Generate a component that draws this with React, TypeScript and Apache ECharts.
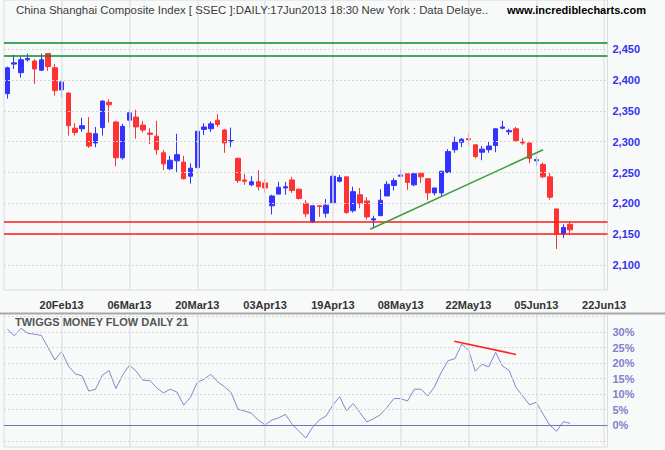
import React, { useEffect, useRef } from "react";
import * as echarts from "echarts";

const dates = ['01Feb13','04Feb13','05Feb13','06Feb13','07Feb13','08Feb13','18Feb13','19Feb13','20Feb13','21Feb13','22Feb13','25Feb13','26Feb13','27Feb13','28Feb13','01Mar13','04Mar13','05Mar13','06Mar13','07Mar13','08Mar13','11Mar13','12Mar13','13Mar13','14Mar13','15Mar13','18Mar13','19Mar13','20Mar13','21Mar13','22Mar13','25Mar13','26Mar13','27Mar13','28Mar13','29Mar13','01Apr13','02Apr13','03Apr13','08Apr13','09Apr13','10Apr13','11Apr13','12Apr13','15Apr13','16Apr13','17Apr13','18Apr13','19Apr13','22Apr13','23Apr13','24Apr13','25Apr13','26Apr13','02May13','03May13','06May13','07May13','08May13','09May13','10May13','13May13','14May13','15May13','16May13','17May13','20May13','21May13','22May13','23May13','24May13','27May13','28May13','29May13','30May13','31May13','03Jun13','04Jun13','05Jun13','06Jun13','07Jun13','13Jun13','14Jun13','17Jun13','18Jun13','19Jun13','20Jun13','21Jun13','22Jun13'];

const tickLabels = ['20Feb13','06Mar13','20Mar13','03Apr13','19Apr13','08May13','22May13','05Jun13','22Jun13'];

const opens = [2378,2426,2412,2433,2431,2416,2443,2420,2384,2379,2322,2321,2314,2298,2323,2364,2332,2274,2335,2340,2327,2314,2309,2282,2256,2269,2267,2244,2258,2320,2321,2335,2319,2300,2273,2238,2230,2235,2233,2196,2215,2225,2238,2223,2200,2170,2196,2184,2201,2236,2243,2188,2214,2204,2173,2180,2212,2229,2244,2248,2230,2249,2240,2217,2217,2250,2287,2299,2305,2295,2283,2287,2294,2322,2316,2321,2300,2298,2269,2263,2243,2191,2150,2166];
const closes = [2420,2428,2433,2435,2418,2433,2422,2383,2397,2326,2315,2326,2293,2313,2366,2360,2274,2325,2347,2324,2319,2312,2287,2264,2270,2279,2240,2257,2317,2324,2329,2328,2298,2302,2237,2236,2235,2227,2225,2212,2226,2227,2221,2208,2183,2196,2195,2197,2244,2242,2185,2219,2200,2178,2175,2205,2231,2237,2246,2234,2248,2243,2217,2225,2252,2284,2299,2304,2303,2276,2288,2293,2321,2324,2318,2302,2298,2273,2271,2243,2210,2150,2161,2157];
const lows = [2370,2418,2404,2430,2394,2415,2415,2375,2372,2310,2310,2316,2290,2291,2310,2331,2260,2271,2323,2305,2315,2296,2279,2254,2254,2251,2239,2232,2257,2311,2316,2324,2282,2291,2233,2230,2228,2221,2217,2182,2215,2214,2217,2206,2178,2168,2178,2177,2201,2234,2183,2185,2192,2174,2161,2180,2212,2221,2242,2222,2228,2233,2205,2213,2211,2249,2282,2291,2294,2273,2270,2282,2283,2320,2311,2300,2295,2265,2261,2241,2206,2126,2144,2148];
const highs = [2422,2441,2438,2443,2434,2443,2444,2426,2399,2380,2330,2339,2340,2324,2367,2369,2334,2329,2352,2352,2334,2322,2334,2287,2277,2313,2277,2265,2318,2330,2333,2345,2321,2323,2274,2248,2244,2254,2240,2214,2235,2235,2243,2224,2205,2197,2197,2207,2251,2246,2243,2227,2225,2210,2180,2223,2236,2241,2255,2248,2248,2251,2240,2225,2253,2288,2308,2306,2314,2295,2293,2300,2322,2334,2321,2324,2306,2298,2276,2266,2250,2191,2166,2169];

const moneyFlow = [30.9,28.8,31.2,29.6,29.3,28.9,25.0,21.0,23.7,19.1,16.5,15.9,11.0,11.6,16.1,17.6,11.8,16.2,19.3,17.4,14.5,14.4,12.1,10.4,11.6,10.7,6.5,9.0,13.8,14.8,16.4,14.0,12.4,10.5,5.2,4.6,3.9,1.7,0.1,1.7,2.4,3.5,0.3,-1.9,-4.1,-0.7,1.7,3.0,6.5,9.2,4.7,7.0,4.1,1.1,2.1,3.4,5.8,8.6,8.6,7.8,11.6,11.6,9.4,12.4,17.1,20.8,21.4,26.1,24.2,17.4,19.6,18.8,23.5,19.1,17.6,12.2,9.4,6.6,7.4,3.6,0.0,-1.9,1.2,0.6];

const priceTicks = [2100, 2150, 2200, 2250, 2300, 2350, 2400, 2450];
const flowTicks = [0, 5, 10, 15, 20, 25, 30];
const flowGrid = [-5, 5, 10, 15, 20, 25, 30, 35];
const greenLevels = [2460, 2439];
const redLevels = [2170, 2150];
const trendLine = [[53.5, 2158], [79.0, 2287]];
const divergenceLine = [[65.9, 27.0], [75.0, 22.8]];

const FONT = "'Liberation Sans', Arial, sans-serif";
const BLUE = "#3333ff";
const RED = "#ff3333";

function fmtThousands(v: number) {
  return String(v).replace(/\B(?=(\d{3})+(?!\d))/g, ",");
}

export default function App() {
  const ref = useRef<HTMLDivElement>(null);
  useEffect(() => {
    if (!ref.current) return;
    const chart = echarts.init(ref.current, undefined, { renderer: "svg" });
    const candleData = opens.map((o, i) => [o, closes[i], lows[i], highs[i]]);
    const vGrid = tickLabels.map((d) => ({ xAxis: d }));
    const option: any = {
      animation: false,
      backgroundColor: "#f8f9f9",
      grid: [
        { left: 4, right: 57.5, top: 0, height: 290, show: true, backgroundColor: "#f8f9f9", borderColor: "#dcdcdc", borderWidth: 1 },
        { left: 4, right: 57.5, top: 313.5, height: 133.5, show: true, backgroundColor: "#f8f9f9", borderColor: "#dcdcdc", borderWidth: 1 },
      ],
      xAxis: [
        {
          type: "category", gridIndex: 0, data: dates,
          axisLine: { show: false }, axisTick: { show: false }, splitLine: { show: false },
          axisLabel: {
            interval: (idx: number, val: string) => tickLabels.includes(val),
            margin: 9, color: "#333", fontWeight: "bold", fontSize: 11, fontFamily: FONT,
          },
        },
        {
          type: "category", gridIndex: 1, data: dates,
          axisLine: { show: false }, axisTick: { show: false }, splitLine: { show: false },
          axisLabel: { show: false },
        },
        { type: "value", gridIndex: 0, min: -0.5, max: 88.5, show: false },
        { type: "value", gridIndex: 1, min: -0.5, max: 88.5, show: false },
      ],
      yAxis: [
        {
          type: "value", gridIndex: 0, position: "right", min: 2059.4, max: 2530,
          splitLine: { show: false }, axisLine: { show: false }, axisTick: { show: false },
          axisLabel: {
            customValues: priceTicks, margin: 5, color: "#3333ee", fontWeight: "bold",
            fontSize: 11, fontFamily: FONT, formatter: (v: number) => fmtThousands(v),
          },
        },
        {
          type: "value", gridIndex: 1, position: "right", min: -6.98, max: 35.95,
          splitLine: { show: false }, axisLine: { show: false }, axisTick: { show: false },
          axisLabel: {
            customValues: flowTicks, margin: 5, color: "#8080cc", fontWeight: "bold",
            fontSize: 11, fontFamily: FONT, formatter: (v: number) => v + "%",
          },
        },
      ],
      series: [
        {
          type: "line", xAxisIndex: 0, yAxisIndex: 0, data: [], z: 1, silent: true,
          markLine: {
            silent: true, symbol: ["none", "none"], label: { show: false },
            data: [
              ...vGrid.map((d) => ({ ...d, lineStyle: { color: "#e2e4e4", width: 1.5, type: "solid" } })),
              ...priceTicks.map((v) => ({ yAxis: v, lineStyle: { color: "#d6d8d8", width: 1, type: [2, 2] } })),
            ],
          },
        },
        {
          type: "line", xAxisIndex: 1, yAxisIndex: 1, data: [], z: 1, silent: true,
          markLine: {
            silent: true, symbol: ["none", "none"], label: { show: false },
            data: [
              ...vGrid.map((d) => ({ ...d, lineStyle: { color: "#e2e4e4", width: 1.5, type: "solid" } })),
              ...flowGrid.map((v) => ({ yAxis: v, lineStyle: { color: "#d6d8d8", width: 1, type: [2, 2] } })),
              { yAxis: 0, lineStyle: { color: "#7272c4", width: 1.2, type: "solid" } },
            ],
          },
        },
        {
          type: "candlestick", xAxisIndex: 0, yAxisIndex: 0, data: candleData, barWidth: 5, z: 3,
          itemStyle: { color: BLUE, color0: RED, borderColor: BLUE, borderColor0: RED, borderWidth: 1 },
        },
        {
          type: "line", xAxisIndex: 0, yAxisIndex: 0, data: [], z: 4, silent: true,
          markLine: {
            silent: true, symbol: ["none", "none"], label: { show: false },
            data: [
              ...greenLevels.map((v) => ({ yAxis: v, lineStyle: { color: "#0b8a2e", width: 1.5, type: "solid" } })),
              ...redLevels.map((v) => ({ yAxis: v, lineStyle: { color: "#ff1a1a", width: 1.5, type: "solid" } })),
            ],
          },
        },
        {
          type: "line", xAxisIndex: 2, yAxisIndex: 0, data: trendLine, z: 5, symbol: "none", silent: true,
          lineStyle: { color: "#3d9b3d", width: 1.5 },
        },
        {
          type: "line", xAxisIndex: 1, yAxisIndex: 1, data: moneyFlow, z: 3, symbol: "none", silent: true,
          lineStyle: { color: "#8585cc", width: 1 },
        },
        {
          type: "line", xAxisIndex: 3, yAxisIndex: 1, data: divergenceLine, z: 5, symbol: "none", silent: true,
          lineStyle: { color: "#ff2020", width: 1.5 },
        },
      ],
      graphic: [
        {
          type: "line", shape: { x1: 0, y1: 313.5, x2: 665, y2: 313.5 },
          style: { stroke: "#a8a8a8", lineWidth: 2 }, z: 10,
        },
        {
          type: "text", x: 16, y: 10, z: 10,
          style: { text: "China Shanghai Composite Index [ SSEC ]:DAILY:17Jun2013 18:30 New York : Data Delaye..", fill: "#3c3c3c", font: `11.4px ${FONT}`, verticalAlign: "middle" },
        },
        {
          type: "text", x: 507, y: 10, z: 10,
          style: { text: "www.incrediblecharts.com", fill: "#000", font: `bold 11px ${FONT}`, verticalAlign: "middle" },
        },
        {
          type: "text", x: 15, y: 322, z: 10,
          style: { text: "TWIGGS MONEY FLOW DAILY 21", fill: "#555", font: `bold 11px ${FONT}`, verticalAlign: "middle" },
        },
      ],
    };
    chart.setOption(option);
    return () => chart.dispose();
  }, []);
  return <div ref={ref} style={{ position: "fixed", left: 0, top: 0, width: 665, height: 450 }} />;
}
